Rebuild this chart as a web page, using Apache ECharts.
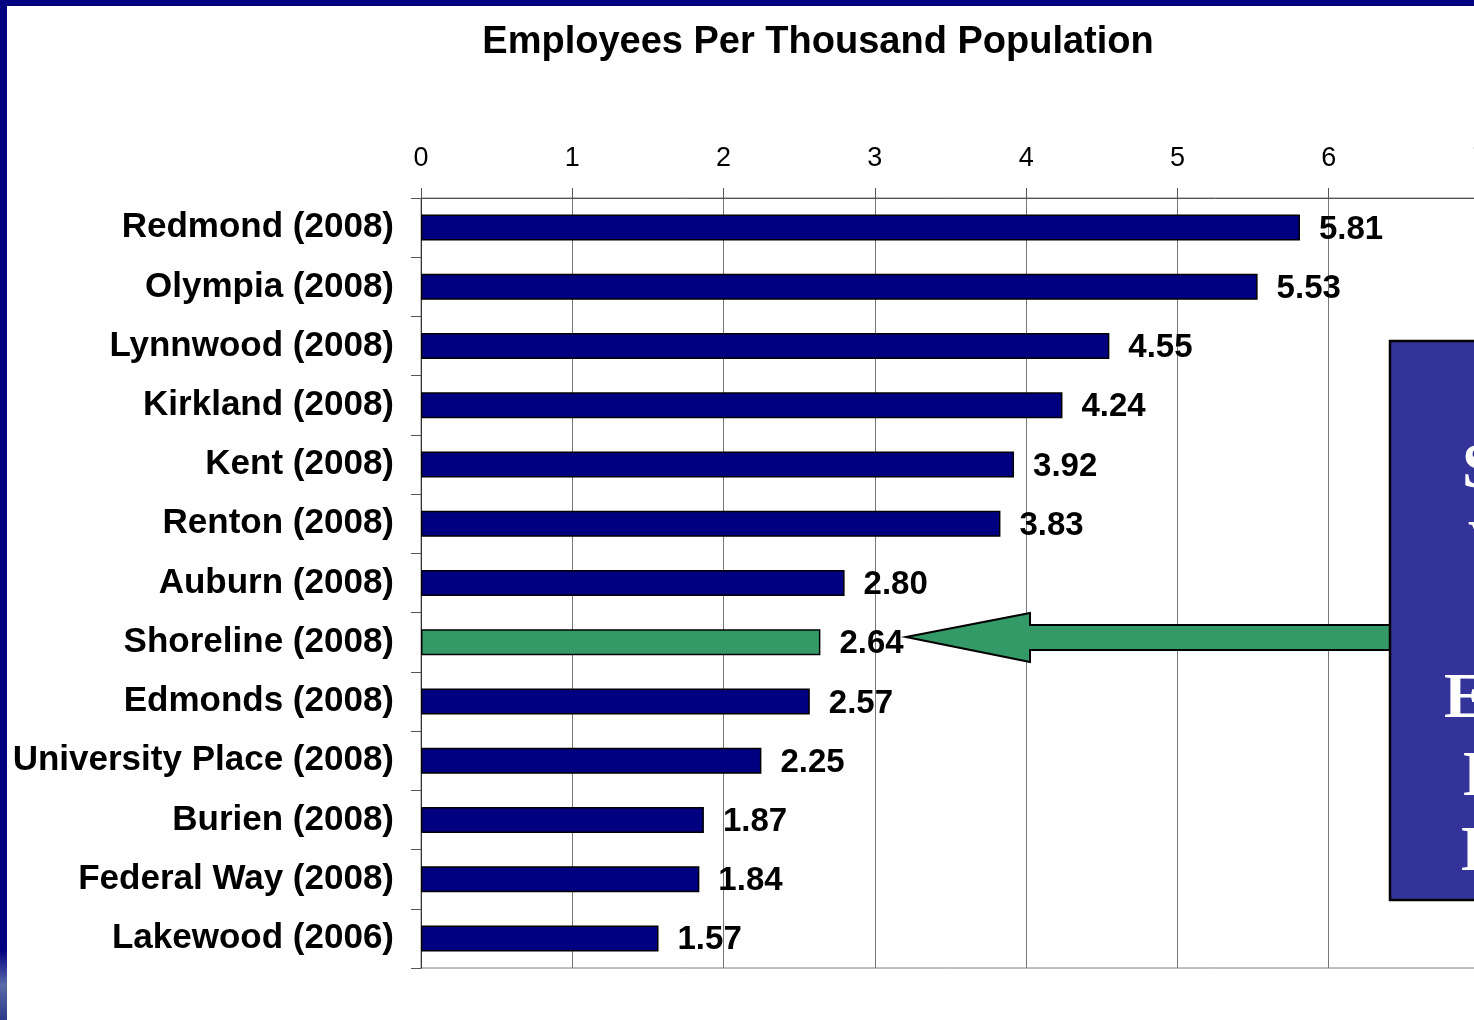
<!DOCTYPE html>
<html>
<head>
<meta charset="utf-8">
<script src="https://cdn.jsdelivr.net/npm/echarts@6/dist/echarts.min.js"></script>
<style>
html,body{margin:0;padding:0;background:#fff;overflow:hidden;width:1474px;height:1020px;}
#chart{width:1500px;height:1020px;}
</style>
</head>
<body>
<div id="chart"></div>
<script>
const titleText = 'Employees Per Thousand Population';
const categories = ['Redmond (2008)','Olympia (2008)','Lynnwood (2008)','Kirkland (2008)','Kent (2008)','Renton (2008)','Auburn (2008)','Shoreline (2008)','Edmonds (2008)','University Place (2008)','Burien (2008)','Federal Way (2008)','Lakewood (2006)'];
const values = [5.81,5.53,4.55,4.24,3.92,3.83,2.80,2.64,2.57,2.25,1.87,1.84,1.57];
const highlight = 'Shoreline (2008)';
const axisMin = 0, axisMax = 7, axisStep = 1;
const boxLetters = [['S',1462,470],['V',1468,547],['E',1444,700],['I',1462,778],['I',1460,853]];

const chart = echarts.init(document.getElementById('chart'), null, {renderer:'canvas'});
const FONT = '"Liberation Sans", Arial, sans-serif';

const option = {
  backgroundColor:'#ffffff',
  animation:false,
  title:{
    text:titleText, left:813, top:19, textAlign:'center',
    textStyle:{fontFamily:FONT, fontWeight:'bold', fontSize:38, color:'#000'}
  },
  grid:{left:421, top:198, right:20, bottom:52, show:true, borderColor:'#808080', borderWidth:1, backgroundColor:'transparent'},
  xAxis:{
    type:'value', position:'top', min:axisMin, max:axisMax, interval:axisStep,
    axisLine:{show:true, lineStyle:{color:'#555', width:1}},
    axisTick:{show:true, inside:false, length:10, lineStyle:{color:'#555', width:1}},
    axisLabel:{fontFamily:FONT, fontSize:27, color:'#000', margin:26},
    splitLine:{show:true, lineStyle:{color:'#777', width:1}}
  },
  yAxis:{
    type:'category', inverse:true, data:categories,
    axisLine:{show:true, lineStyle:{color:'#333', width:1}},
    axisTick:{show:true, inside:false, length:10, lineStyle:{color:'#555', width:1}},
    axisLabel:{fontFamily:FONT, fontSize:35, fontWeight:'bold', color:'#000', margin:27},
    splitLine:{show:false}
  },
  series:[{
    type:'bar',
    barWidth:26,
    data: values.map((v,i)=>({
      value:v,
      itemStyle:{color: categories[i]===highlight ? '#339966' : '#000080'}
    })),
    itemStyle:{borderColor:'#000', borderWidth:1.5},
    label:{show:true, position:'right', distance:19, formatter:p=>p.value.toFixed(2),
      fontFamily:FONT, fontSize:33, fontWeight:'bold', color:'#000', offset:[0,2]},
    z:3
  }],
  graphic:[
    {type:'rect', shape:{x:0,y:0,width:7,height:1020}, style:{fill:'#000080'}, z:100},
    {type:'rect', shape:{x:0,y:0,width:1500,height:6}, style:{fill:'#000080'}, z:100},
    {type:'rect', shape:{x:0,y:950,width:7,height:70}, style:{fill:new echarts.graphic.LinearGradient(0,0,0,1,[{offset:0,color:'#000080'},{offset:0.5,color:'#5a6aa8'},{offset:1,color:'#2a3a88'}])}, z:101},
    {type:'polygon', shape:{points:[[906,637],[1030,613],[1030,625],[1392,625],[1392,650],[1030,650],[1030,662]]},
      style:{fill:'#339966', stroke:'#000', lineWidth:2}, z:50},
    {type:'rect', shape:{x:1390,y:341,width:200,height:559}, style:{fill:'#333399', stroke:'#000', lineWidth:2.5}, z:60},
    ...boxLetters.map(([t,x,y])=>({type:'text', x:x, y:y, z:61,
      style:{text:t, fill:'#fff', font:'bold 64px "Liberation Serif", "Times New Roman", serif', textAlign:'left', textVerticalAlign:'middle'}}))
  ]
};
chart.setOption(option);
</script>
</body>
</html>
